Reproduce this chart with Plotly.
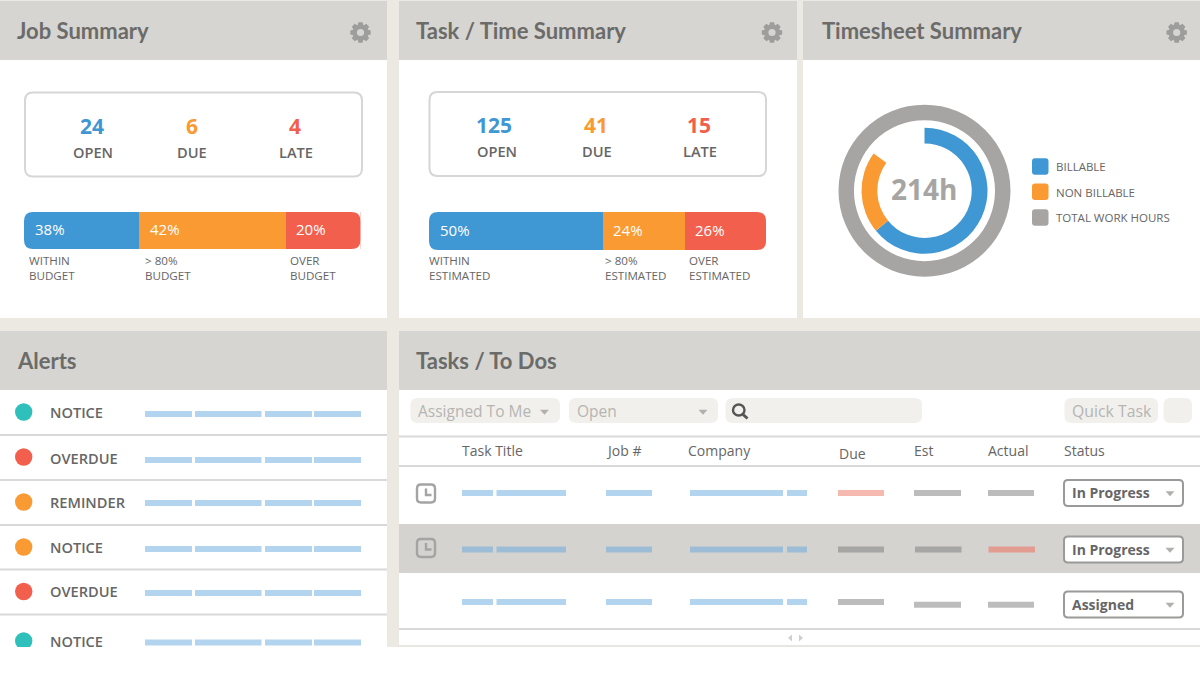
import math
import plotly.graph_objects as go

# values
panel_titles = ["Job Summary", "Task / Time Summary", "Timesheet Summary", "Alerts", "Tasks / To Dos"]
count_labels = ["OPEN", "DUE", "LATE"]
job_counts = ["24", "6", "4"]
task_counts = ["125", "41", "15"]
job_bar_shares = [34.2, 43.6, 22.2]
job_bar_labels = ["38%", "42%", "20%"]
job_bar_captions = ["WITHIN<br>BUDGET", "> 80%<br>BUDGET", "OVER<br>BUDGET"]
task_bar_shares = [51.6, 24.3, 24.1]
task_bar_labels = ["50%", "24%", "26%"]
task_bar_captions = ["WITHIN<br>ESTIMATED", "> 80%<br>ESTIMATED", "OVER<br>ESTIMATED"]
time_names = ["BILLABLE", "NON BILLABLE", "TOTAL WORK HOURS"]
time_hours = [137, 45, 32]
time_total = 214
alert_names = ["NOTICE", "OVERDUE", "REMINDER", "NOTICE", "OVERDUE", "NOTICE"]
alert_levels = ["teal", "red", "orange", "orange", "red", "teal"]
table_columns = ["Task Title", "Job #", "Company", "Due", "Est", "Actual", "Status"]
task_status = ["In Progress", "In Progress", "Assigned"]

BLUE, ORANGE, RED, TEAL = "#3f97d3", "#f99a33", "#f2604d", "#2fc0bb"
GREY_RING = "#a6a5a3"
HEAD = "#d6d5d1"
GUTTER = "#ece9e3"
TEXT = "#666666"
LINE = "#d9d9d9"
SOFT = "#f1f0ec"
DASH_BLUE = "#b3d4ee"
level_colors = {"teal": TEAL, "red": RED, "orange": ORANGE}
W, H = 1200, 685
FONT = "Open Sans"
TITLE_FONT = "Lato"

shapes = []
notes = []


def rrect_path(x0, y0, x1, y1, r):
    return (f"M{x0+r},{y0} L{x1-r},{y0} Q{x1},{y0} {x1},{y0+r} L{x1},{y1-r} Q{x1},{y1} {x1-r},{y1} "
            f"L{x0+r},{y1} Q{x0},{y1} {x0},{y1-r} L{x0},{y0+r} Q{x0},{y0} {x0+r},{y0} Z")


def rect(x0, y0, x1, y1, fill, layer="below"):
    shapes.append(dict(type="rect", xref="x", yref="y", x0=x0, y0=y0, x1=x1, y1=y1,
                       fillcolor=fill, line_width=0, layer=layer))


def rrect(x0, y0, x1, y1, r, fill="rgba(0,0,0,0)", border=None, bw=0, layer="below"):
    shapes.append(dict(type="path", xref="x", yref="y", path=rrect_path(x0, y0, x1, y1, r),
                       fillcolor=fill, line=dict(color=border or fill, width=bw), layer=layer))


def poly(points, fill=None, border=None, bw=0, layer="below"):
    path = "M" + " L".join(f"{a:.2f},{b:.2f}" for a, b in points)
    if fill:
        path += " Z"
    shapes.append(dict(type="path", xref="x", yref="y", path=path, fillcolor=fill or "rgba(0,0,0,0)",
                       line=dict(color=border or fill, width=bw), layer=layer))


def hline(x0, x1, y, color=LINE, width=2):
    shapes.append(dict(type="line", xref="x", yref="y", x0=x0, x1=x1, y0=y, y1=y,
                       line=dict(color=color, width=width), layer="below"))


def text(x, y, s, size, color=TEXT, weight=400, anchor="left", family=FONT):
    notes.append(dict(xref="x", yref="y", x=x, y=y, text=s, showarrow=False, xanchor=anchor, yanchor="middle",
                      align=anchor, font=dict(size=size, color=color, family=family, weight=weight),
                      borderpad=0, borderwidth=0))


def caret(x, y, color="#b0b0ae"):
    poly([(x - 4.5, y - 2.2), (x + 4.5, y - 2.2), (x, y + 2.8)], fill=color)


def gear(cx, cy):
    pts = []
    for i in range(8):
        a = i * math.pi / 4
        for da, rad in [(-0.36, 7.9), (-0.2, 10.4), (0.2, 10.4), (0.36, 7.9)]:
            pts.append((cx + rad * math.cos(a + da), cy + rad * math.sin(a + da)))
    poly(pts, fill="#9d9d9b")
    shapes.append(dict(type="circle", xref="x", yref="y", x0=cx - 3.6, x1=cx + 3.6, y0=cy - 3.6, y1=cy + 3.6,
                       fillcolor=HEAD, line_width=0, layer="below"))


def clock(y0):
    rrect(417, y0, 435, y0 + 18, 4, fill="rgba(0,0,0,0)", border="#a4a4a4", bw=2.4)
    poly([(426, y0 + 4), (426, y0 + 10.5), (431.5, y0 + 10.5)], border="#a4a4a4", bw=2.4)


fig = go.Figure()

# page background and panels
rect(0, 0, W, 647, GUTTER)
panel_boxes = [(0, 1, 387, 318), (399, 1, 797, 318), (803, 1, W, 318), (0, 331, 387, 647), (399, 331, W, 646)]
for (x0, y0, x1, y1), title in zip(panel_boxes, panel_titles):
    rect(x0, y0, x1, y1, "white")
    rect(x0, y0, x1, y0 + 59, HEAD)
    text(x0 + (19 if x0 == 803 else 17), y0 + 29, title, 22, "#6b6b69", 700, family=TITLE_FONT)
for gx in [360.5, 772, 1176.7]:
    gear(gx, 32.5)

# summary cards
for box, counts, xs_n, xs_l, y_n, y_l, colors in [
    ((25, 92.5, 362, 176.5), job_counts, [91.5, 192, 295], [92.5, 192, 295.5], 126, 152.2, [BLUE, ORANGE, RED]),
    ((429.5, 92, 766, 176), task_counts, [494, 596, 699], [497, 596.5, 700], 125, 151.2, [BLUE, ORANGE, RED]),
]:
    rrect(*box, 8, fill="white", border="#d6d6d6", bw=2)
    for c, lab, xn, xl, col in zip(counts, count_labels, xs_n, xs_l, colors):
        text(xn, y_n, c, 21, col, 700, "center")
        text(xl, y_l, lab, 14.6, TEXT, 600, "center")

# stacked bars, one small subplot each
bar_slots = [
    (24, 360.5, 212, 249, job_bar_shares, job_bar_labels, job_bar_captions, [29, 145, 289.5], 2),
    (429, 766, 212, 250, task_bar_shares, task_bar_labels, task_bar_captions, [429, 605, 689], 3),
]
seg_colors = [BLUE, ORANGE, RED]
for x0, x1, y0, y1, shares, labels, captions, cap_x, n in bar_slots:
    xa, ya = f"x{n}", f"y{n}"
    start = 0
    for share, lab, col in zip(shares, labels, seg_colors):
        fig.add_trace(go.Bar(x=[share], y=[0], orientation="h", marker=dict(color=col, line_width=0),
                             xaxis=xa, yaxis=ya, width=1, showlegend=False, hoverinfo="skip"))
        notes.append(dict(xref=xa, yref=ya, x=start, y=0, xshift=8.5, yshift=1, text=lab, showarrow=False,
                          xanchor="left", yanchor="middle", font=dict(size=15, color="white", family=FONT)))
        start += share
    axis = dict(visible=False, fixedrange=True)
    fig.update_layout({
        f"xaxis{n}": dict(axis, domain=[x0 / W, x1 / W], range=[0, sum(shares)], anchor=ya),
        f"yaxis{n}": dict(axis, domain=[1 - y1 / H, 1 - y0 / H], range=[-0.5, 0.5], anchor=xa),
    })
    for cx, cy, sx, sy in [(x0, y0, 1, 1), (x1, y0, -1, 1), (x0, y1, 1, -1), (x1, y1, -1, -1)]:
        poly([(cx, cy), (cx + 9 * sx, cy), (cx, cy + 9 * sy)], fill="white", layer="above")
        shapes[-1]["path"] = f"M{cx},{cy} L{cx+9*sx},{cy} Q{cx},{cy} {cx},{cy+9*sy} Z"
    for cap, cx in zip(captions, cap_x):
        text(cx, 267.6, cap, 11.6, TEXT)

# timesheet donut
CX, CY = 924.5, 190.7
for values, colors, radius, hole in [
    ([time_total], [GREY_RING], 86, 0.82),
    (time_hours, [BLUE, ORANGE, "rgba(0,0,0,0)"], 63, 0.75),
]:
    fig.add_trace(go.Pie(values=values, marker=dict(colors=colors, line_width=0), hole=hole, sort=False,
                         direction="clockwise", rotation=0, textinfo="none", hoverinfo="skip", showlegend=False,
                         automargin=False,
                         domain=dict(x=[(CX - radius) / W, (CX + radius) / W],
                                     y=[1 - (CY + radius) / H, 1 - (CY - radius) / H])))
text(CX - 0.5, 189, f"{time_total}h", 28, GREY_RING, 700, "center")
for name, col, y in zip(time_names, [BLUE, ORANGE, GREY_RING], [166.5, 191.8, 217.5]):
    rrect(1032, y - 8.2, 1048.5, y + 8.2, 3, fill=col)
    text(1056, y + 0.3, name, 11.5, TEXT)

# alerts list
alert_dot_y = [412, 457, 502, 547, 591.5, 641]
alert_text_y = [412, 458, 502, 547, 591, 641]
alert_dash_y = [414, 460, 503, 549, 593, 642.5]
alert_segments = [(145, 192), (195, 261.5), (265, 312), (314, 361)]
for y in [435, 480, 525, 569.5, 614.5]:
    hline(0, 387, y)
for name, ty, dy in zip(alert_names, alert_text_y, alert_dash_y):
    text(50, ty, name, 14.6, TEXT, 600)
    for a, b in alert_segments:
        rect(a, dy - 3, b, dy + 3, DASH_BLUE)
fig.add_trace(go.Scatter(x=[23.7] * len(alert_levels), y=alert_dot_y, mode="markers", xaxis="x", yaxis="y",
                         marker=dict(size=17.4, color=[level_colors[k] for k in alert_levels], line_width=0),
                         showlegend=False, hoverinfo="skip"))
rect(0, 647, W, H, "white", layer="above")

# tasks filters
rrect(410.5, 398, 560, 423, 7, fill=SOFT)
rrect(569, 398, 718, 423, 7, fill=SOFT)
rrect(725.5, 398, 922, 423, 7, fill=SOFT)
rrect(1064.5, 398, 1158, 423, 7, fill=SOFT)
rrect(1163.5, 398, 1192, 423, 7, fill=SOFT)
text(418, 410.5, "Assigned To Me", 15.5, "#b5b5b2")
text(577, 410.5, "Open", 15.5, "#b5b5b2")
text(1072, 410.5, "Quick Task", 15.8, "#b5b5b2")
caret(544.5, 412)
caret(703, 412)
shapes.append(dict(type="circle", xref="x", yref="y", x0=733, x1=744.5, y0=404.5, y1=415.5,
                   line=dict(color="#555555", width=2.4), layer="below"))
poly([(743, 414.5), (747.5, 418.5)], border="#555555", bw=3)

# tasks table
hline(399, W, 436.5)
hline(399, W, 466)
rect(399, 524, W, 573, "#d4d3cf")
hline(399, W, 629)
hline(399, W, 646, "#e8e6e0")
for name, x, y in zip(table_columns, [461.5, 605.5, 688, 839, 914, 988, 1064], [450.5, 450.5, 450.5, 453, 450.5, 450.5, 450.5]):
    text(x, y, name, 14, "#666666")

title_segs = [(462, 493), (496.5, 566), (606, 652), (690, 783), (787, 807)]
row_y = [493, 549.5, 602]
row_blue = [DASH_BLUE, "#9dbdd6", DASH_BLUE]
row_due = [(838, 884, 493, "#f5b9b0"), (838, 884, 549.5, "#a6a6a4"), (838, 884, 602, "#bcbcbc")]
row_est = [(914, 961, 493, "#bcbcbc"), (915, 961.5, 549.5, "#a6a6a4"), (914, 961, 604.7, "#bcbcbc")]
row_act = [(988, 1034, 493, "#bcbcbc"), (988.5, 1035, 549.5, "#e39c92"), (988, 1034, 604.7, "#bcbcbc")]
for y, col in zip(row_y, row_blue):
    for a, b in title_segs:
        rect(a, y - 3, b, y + 3, col)
for a, b, y, col in row_due + row_est + row_act:
    rect(a, y - 3, b, y + 3, col)

clock(484.5)
clock(539)
for status, y in zip(task_status, [493, 549.5, 604.5]):
    rrect(1064, y - 13, 1183, y + 13, 4, fill="white", border="#9a9a98", bw=2)
    text(1072, y - 0.5, status, 14, "#666666", 700)
    caret(1170, y + 0.5)
poly([(792, 634.5), (792, 641.5), (788, 638)], fill="#cfcfcf")
poly([(799, 634.5), (799, 641.5), (803, 638)], fill="#cfcfcf")

fig.update_layout(
    template="none",
    width=W, height=H,
    margin=dict(l=0, r=0, t=0, b=0),
    paper_bgcolor="white", plot_bgcolor="rgba(0,0,0,0)",
    barmode="stack", bargap=0,
    showlegend=False,
    xaxis=dict(visible=False, range=[0, W], domain=[0, 1], fixedrange=True),
    yaxis=dict(visible=False, range=[H, 0], domain=[0, 1], fixedrange=True),
    shapes=shapes,
    annotations=notes,
)

fig.write_html("out.html", config=dict(displayModeBar=False),
               post_script="document.body.style.margin='0';document.body.style.overflow='hidden';")
